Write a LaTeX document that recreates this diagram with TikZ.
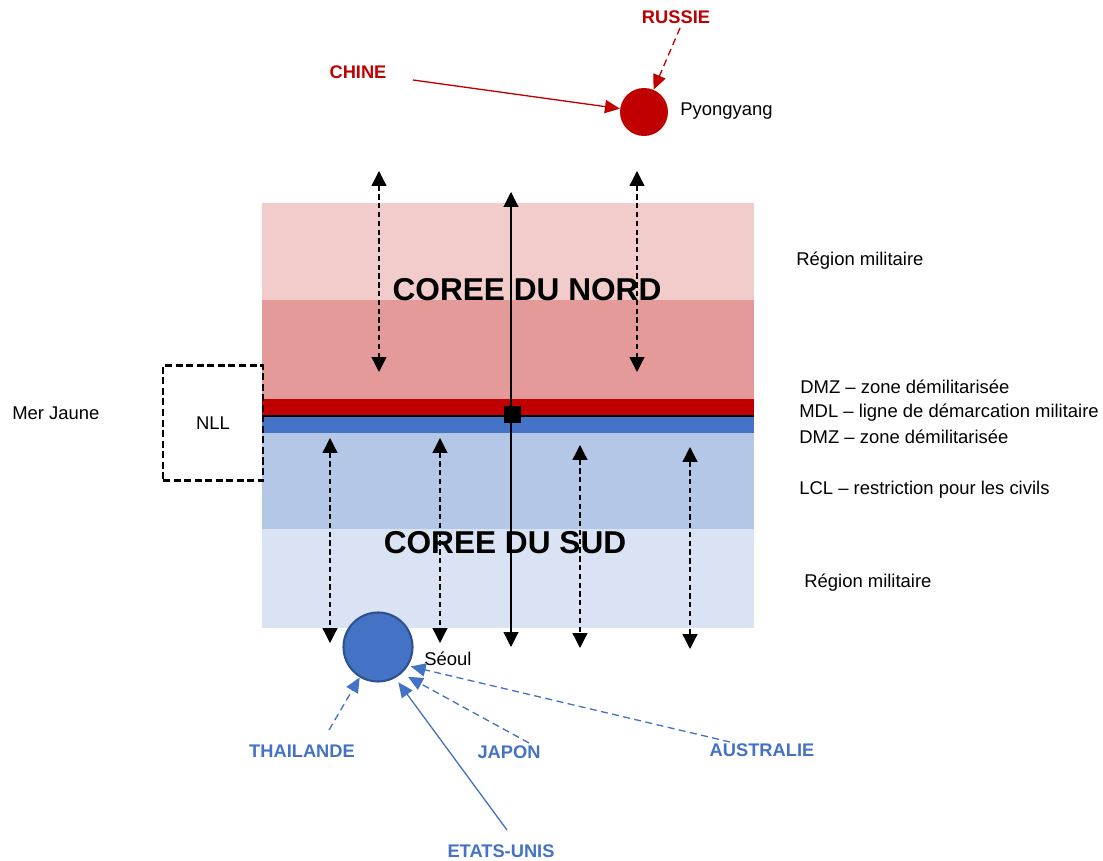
\documentclass[tikz,border=0pt]{standalone}
\usepackage{fontspec}
\setmainfont{Liberation Sans}
\usetikzlibrary{arrows.meta}
\definecolor{NordRed}{HTML}{C00000}
\definecolor{NordPale}{HTML}{F2CBCB}
\definecolor{NordMid}{HTML}{E59A9A}
\definecolor{SudBlue}{HTML}{4472C4}
\definecolor{SudMid}{HTML}{B4C7E7}
\definecolor{SudPale}{HTML}{DAE3F3}
\definecolor{SeoulEdge}{HTML}{2F528F}

\begin{document}
\begin{tikzpicture}[
        %Environment Config
        x=0.02cm, y=-0.02cm,
        font=\fontsize{10.5}{12}\selectfont,
        Label/.style={%Style for the plain texts
            inner sep=0pt,
            anchor=west
        },
        Country/.style={%Style for the countries
            inner sep=0pt,
            font=\fontsize{10.4}{12}\selectfont\bfseries,
            text=#1
        },
        Title/.style={%Style for the two big names
            inner sep=0pt,
            font=\fontsize{18}{20}\selectfont\bfseries
        },
        Border/.style={%Style for the arrows across the border
            {Triangle[length=8.5pt,width=8.5pt]}-{Triangle[length=8.5pt,width=8.5pt]},
            line width=0.75pt
        },
        Link/.style={%Style for the support arrows
            -{Triangle[length=8.5pt,width=7.5pt]},
            #1,
            line width=0.75pt
        },
        Capital/.style={%Style for the capitals
            circle,
            inner sep=0pt
        },
        Dots/.style={%Style for the dashed links
            dash pattern=on 4pt off 2.5pt
        }
    ]
    \useasboundingbox (0,0) rectangle (1103,861);

    %%%%%%%%%%%%%%%%%%%%%%%%%%%%%%%%%%%%%%%%%%%%%%%%%%%%%%%%%%%%%%%%%%%%%%%%%%%%
    % BANDS
    %%%%%%%%%%%%%%%%%%%%%%%%%%%%%%%%%%%%%%%%%%%%%%%%%%%%%%%%%%%%%%%%%%%%%%%%%%%%
    \fill[NordPale] (262,203) rectangle (754,300);
    \fill[NordMid] (262,300) rectangle (754,399);
    \fill[NordRed] (262,399) rectangle (754,416);
    \fill[SudBlue] (262,416) rectangle (754,433);
    \fill[SudMid] (262,433) rectangle (754,529);
    \fill[SudPale] (262,529) rectangle (754,628);
    \draw[line width=1.1pt] (262,416) -- (754,416); % MDL

    \node[Title] (nord) at (527,290) {COREE DU NORD};
    \node[Title] (sud) at (505,543) {COREE DU SUD};

    % NLL box
    \node[draw, line width=1.5pt, dash pattern=on 4pt off 2pt,
        minimum width=2cm, minimum height=2.3cm, inner sep=0pt] (nll) at (213,423) {NLL};
    \node[Label] (mer) at (12,413) {Mer Jaune};

    % right side texts
    \node[Label] (rm1) at (796,261) {Région militaire};
    \node[Label] (dmz1) at (800,387) {DMZ – zone démilitarisée};
    \node[Label] (mdl) at (799,413) {MDL – ligne de démarcation militaire};
    \node[Label] (dmz2) at (799,437) {DMZ – zone démilitarisée};
    \node[Label] (lcl) at (799,490) {LCL – restriction pour les civils};
    \node[Label] (rm2) at (804,583) {Région militaire};

    %%%%%%%%%%%%%%%%%%%%%%%%%%%%%%%%%%%%%%%%%%%%%%%%%%%%%%%%%%%%%%%%%%%%%%%%%%%%
    % ARROWS ACROSS THE BANDS
    %%%%%%%%%%%%%%%%%%%%%%%%%%%%%%%%%%%%%%%%%%%%%%%%%%%%%%%%%%%%%%%%%%%%%%%%%%%%
    \coordinate (axis top) at (511,192);
    \coordinate (axis bot) at (511,647);
    \draw[Border, line width=0.6pt] (axis top) -- (axis bot);
    \node[fill=black, minimum size=0.34cm, inner sep=0pt] (post) at (512,415) {};

    % north side
    \foreach \x [count=\i] in {379,637}{
        \coordinate (N\i top) at (\x,171);
        \coordinate (N\i bot) at (\x,372);
        \draw[Border, densely dashed] (N\i top) -- (N\i bot);
    }
    % south side
    \foreach \x/\a/\b [count=\i] in {330/438/643, 440/438/643, 580/445/648, 690/447/649}{
        \coordinate (S\i top) at (\x,\a);
        \coordinate (S\i bot) at (\x,\b);
        \draw[Border, densely dashed] (S\i top) -- (S\i bot);
    }

    %%%%%%%%%%%%%%%%%%%%%%%%%%%%%%%%%%%%%%%%%%%%%%%%%%%%%%%%%%%%%%%%%%%%%%%%%%%%
    % PYONGYANG
    %%%%%%%%%%%%%%%%%%%%%%%%%%%%%%%%%%%%%%%%%%%%%%%%%%%%%%%%%%%%%%%%%%%%%%%%%%%%
    \node[Capital, fill=NordRed, minimum size=0.96cm] (pyong) at (644,112) {};
    \node[Label] (pyongTxt) at (680,111) {Pyongyang};

    \node[Country=NordRed] (chine) at (358,72) {CHINE};
    \node[Country=NordRed] (russie) at (676,17) {RUSSIE};
    \coordinate (chine start) at (413,80);
    \coordinate (russie start) at (680,28);
    \draw[Link=NordRed] (chine start) -- (pyong);
    \draw[Link=NordRed, Dots] (russie start) -- (pyong);

    %%%%%%%%%%%%%%%%%%%%%%%%%%%%%%%%%%%%%%%%%%%%%%%%%%%%%%%%%%%%%%%%%%%%%%%%%%%%
    % SEOUL
    %%%%%%%%%%%%%%%%%%%%%%%%%%%%%%%%%%%%%%%%%%%%%%%%%%%%%%%%%%%%%%%%%%%%%%%%%%%%
    \node[Capital, fill=SudBlue, draw=SeoulEdge, line width=1.2pt, minimum size=1.38cm] (seoul) at (378,647) {};
    \node[Label] (seoulTxt) at (424,659) {Séoul};

    \node[Country=SudBlue] (thai) at (302,751) {THAILANDE};
    \node[Country=SudBlue] (japon) at (509,752) {JAPON};
    \node[Country=SudBlue] (austr) at (762,750) {AUSTRALIE};
    \node[Country=SudBlue] (usa) at (501,851) {ETATS-UNIS};
    \coordinate (thai start) at (329,730);
    \coordinate (japon start) at (529,743);
    \coordinate (austr start) at (730,742);
    \coordinate (usa start) at (507,830);
    \draw[Link=SudBlue, Dots] (thai start) -- (seoul.-121);
    \draw[Link=SudBlue, Dots, shorten >=4pt] (japon start) -- (seoul.-48);
    \draw[Link=SudBlue, Dots, shorten >=1.5pt] (austr start) -- (seoul.-32);
    \draw[Link=SudBlue, shorten >=3pt] (usa start) -- (seoul.-61);
\end{tikzpicture}
\end{document}
